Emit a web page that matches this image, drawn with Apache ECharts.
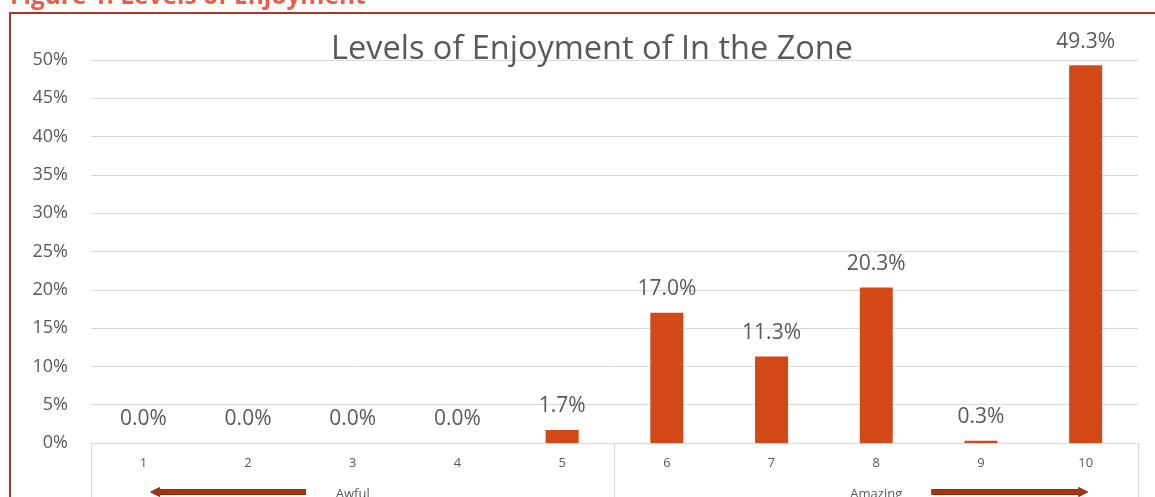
<!DOCTYPE html>
<html>
<head>
<meta charset="utf-8">
<script src="https://cdn.jsdelivr.net/npm/echarts@6/dist/echarts.min.js"></script>
<style>
  html, body { margin: 0; padding: 0; background: #fff; overflow: hidden; }
  #chart { width: 1155px; height: 497px; }
</style>
</head>
<body>
<div id="chart"></div>
<script>
// Enjoyment ratings (1 = awful ... 10 = amazing) and share of respondents, %
const ratings = ['1', '2', '3', '4', '5', '6', '7', '8', '9', '10'];
const shares = [0.0, 0.0, 0.0, 0.0, 1.7, 17.0, 11.3, 20.3, 0.3, 49.3];
const groups = ['Awful', 'Amazing'];
const yTicks = { min: 0, max: 50, step: 5 };

const FONT = '"Open Sans", "Noto Sans", sans-serif';
const GREY = '#595959';
const BAR = '#D24817';
const ARROW = '#A83418';

const chart = echarts.init(document.getElementById('chart'));

// Horizontal arrow polygon spanning x0..x1 at height y, pointing to 'left' or 'right'
function arrowPoints(x0, x1, y, dir) {
  const sh = 2.5, hh = 4.5, hl = 9;
  if (dir === 'right') {
    return [[x0, y - sh], [x1 - hl, y - sh], [x1 - hl, y - hh], [x1, y],
            [x1 - hl, y + hh], [x1 - hl, y + sh], [x0, y + sh]];
  }
  return [[x1, y - sh], [x0 + hl, y - sh], [x0 + hl, y - hh], [x0, y],
          [x0 + hl, y + hh], [x0 + hl, y + sh], [x1, y + sh]];
}

chart.setOption({
  animation: false,
  backgroundColor: '#fff',
  title: {
    text: 'Levels of Enjoyment of In the Zone',
    left: 326,
    top: 28,
    textStyle: { fontFamily: FONT, fontSize: 32.5, fontWeight: 'normal', color: GREY }
  },
  grid: { left: 91, right: 17, top: 60, bottom: 54, outerBoundsMode: 'none', containLabel: false },
  xAxis: [
    {
      type: 'category',
      data: ratings,
      axisLine: { show: true, lineStyle: { color: '#D9D9D9', width: 1 } },
      axisTick: { show: false },
      axisLabel: { fontFamily: FONT, fontSize: 13, color: GREY, margin: 14 }
    },
    {
      type: 'category',
      data: groups,
      position: 'bottom',
      axisLine: { show: false },
      axisTick: { show: true, length: 80, lineStyle: { color: '#D9D9D9', width: 1 } },
      axisLabel: { fontFamily: FONT, fontSize: 13, color: GREY, margin: 45 },
      splitLine: { show: false }
    }
  ],
  yAxis: {
    type: 'value',
    min: yTicks.min,
    max: yTicks.max,
    interval: yTicks.step,
    axisLine: { show: false },
    axisTick: { show: false },
    axisLabel: { formatter: '{value}%', fontFamily: FONT, fontSize: 18, color: GREY, margin: 23 },
    splitLine: { lineStyle: { color: '#D9D9D9', width: 1 } }
  },
  series: [{
    type: 'bar',
    data: shares,
    barWidth: 33,
    itemStyle: { color: BAR },
    label: {
      show: true,
      position: 'top',
      distance: 13,
      formatter: p => p.value.toFixed(1) + '%',
      fontFamily: FONT,
      fontSize: 21,
      color: GREY
    }
  }]
});

// Decorations placed relative to the category axis
const cx = i => chart.convertToPixel({ xAxisIndex: 0 }, ratings[i]);
const step = cx(1) - cx(0);
const arrowY = 492;
chart.setOption({
  graphic: [
    {
      type: 'rect',
      shape: { x: 10, y: 13, width: 1200, height: 600 },
      style: { fill: 'none', stroke: '#A8362A', lineWidth: 2 },
      silent: true
    },
    {
      type: 'text',
      x: 10,
      y: -3,
      style: {
        text: 'Figure 1: Levels of Enjoyment',
        fontFamily: FONT,
        fontSize: 24.5,
        fontWeight: 'bold',
        fill: '#E5614B',
        verticalAlign: 'middle'
      },
      silent: true
    },
    {
      type: 'polygon',
      shape: { points: arrowPoints(cx(0) + 0.07 * step, cx(1) + 0.55 * step, arrowY, 'left') },
      style: { fill: ARROW, stroke: '#8E2A12', lineWidth: 1 },
      silent: true
    },
    {
      type: 'polygon',
      shape: { points: arrowPoints(cx(7) + 0.53 * step, cx(9) + 0.02 * step, arrowY, 'right') },
      style: { fill: ARROW, stroke: '#8E2A12', lineWidth: 1 },
      silent: true
    }
  ]
});
</script>
</body>
</html>
